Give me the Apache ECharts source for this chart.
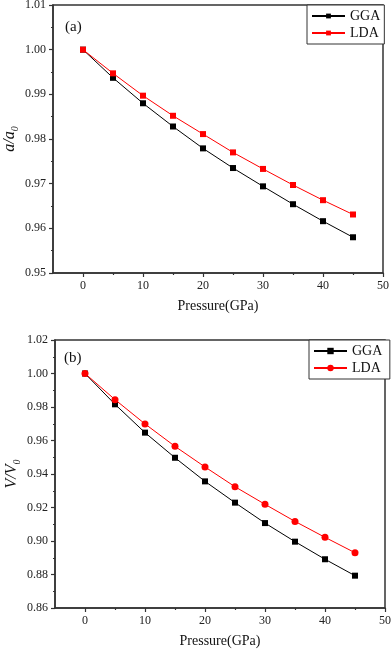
<!DOCTYPE html>
<html>
<head>
<meta charset="utf-8">
<script src="https://cdn.jsdelivr.net/npm/echarts@6/dist/echarts.min.js"></script>
<style>
  html, body { margin: 0; padding: 0; background: #fff; }
  #main { width: 392px; height: 652px; }
</style>
</head>
<body>
<div id="main"></div>
<script>
var pressure = [0, 5, 10, 15, 20, 25, 30, 35, 40, 45];
// (a) lattice constant ratio a/a0
var aGGA = [1.0000, 0.9937, 0.9880, 0.9828, 0.9779, 0.9735, 0.9694, 0.9654, 0.9616, 0.9580];
var aLDA = [1.0000, 0.9947, 0.9897, 0.9852, 0.9811, 0.9770, 0.9733, 0.9697, 0.9663, 0.9631];
// (b) volume ratio V/V0
var vGGA = [1.0000, 0.9816, 0.9647, 0.9497, 0.9356, 0.9229, 0.9107, 0.8996, 0.8891, 0.8793];
var vLDA = [1.0000, 0.9844, 0.9699, 0.9565, 0.9442, 0.9324, 0.9219, 0.9117, 0.9022, 0.8930];
var xMajor = [0, 10, 20, 30, 40, 50];
var xMinor = [5, 15, 25, 35, 45];

function pairs(xs, ys) {
  return xs.map(function (x, i) { return [x, ys[i]]; });
}

var serif = 'Liberation Serif';
var axisColor = '#333';

// main x axis plus a label-less one for the short ticks in between
function xAxes(g) {
  return [{
    gridIndex: g, type: 'value', min: -5, max: 50, interval: 5, position: 'bottom',
    name: 'Pressure(GPa)', nameLocation: 'middle', nameGap: 26,
    nameTextStyle: { fontFamily: serif, fontSize: 14, color: '#111' },
    axisLine: { onZero: false, lineStyle: { color: axisColor, width: 1.5 } },
    axisTick: { customValues: xMajor, length: 4, lineStyle: { color: axisColor, width: 1.2 } },
    axisLabel: { customValues: xMajor, margin: 7, fontFamily: serif, fontSize: 12, color: '#222' },
    splitLine: { show: false }
  }, {
    gridIndex: g, type: 'value', min: -5, max: 50, interval: 5, position: 'bottom',
    axisLine: { show: false, onZero: false },
    axisTick: { customValues: xMinor, length: 2, lineStyle: { color: axisColor, width: 1.2 } },
    axisLabel: { show: false },
    splitLine: { show: false }
  }];
}

function yAxis(g, min, max, step, nm) {
  return {
    gridIndex: g, type: 'value', min: min, max: max, interval: step,
    name: nm, nameLocation: 'middle', nameGap: 33, nameMoveOverlap: false,
    nameTextStyle: {
      rich: {
        i: { fontFamily: serif, fontStyle: 'italic', fontSize: 16, color: '#111', lineHeight: 20, verticalAlign: 'middle' },
        s: { fontFamily: serif, fontStyle: 'italic', fontSize: 10, color: '#111', lineHeight: 20, verticalAlign: 'bottom' }
      }
    },
    axisLine: { show: true, onZero: false, lineStyle: { color: axisColor, width: 1.5 } },
    axisTick: { length: 4, lineStyle: { color: axisColor, width: 1.2 } },
    minorTick: { show: true, splitNumber: 2, length: 2, lineStyle: { color: axisColor, width: 1.2 } },
    axisLabel: {
      margin: 7, fontFamily: serif, fontSize: 12, color: '#222',
      formatter: function (v) { return v.toFixed(2); }
    },
    splitLine: { show: false }
  };
}

function lineSeries(name, xi, yi, data, color, symbol, size) {
  return {
    name: name, type: 'line', xAxisIndex: xi, yAxisIndex: yi, data: data,
    symbol: symbol, symbolSize: size,
    lineStyle: { color: color, width: 1 },
    itemStyle: { color: color }
  };
}

function legendBox(names, left, top, iconH) {
  return {
    data: names, orient: 'vertical', left: left, top: top,
    padding: [4, 4, 4, 4], itemGap: 3, itemWidth: 33, itemHeight: iconH,
    borderColor: axisColor, borderWidth: 1, backgroundColor: '#fff',
    textStyle: { fontFamily: serif, fontSize: 14, color: '#111' },
    selectedMode: false
  };
}

var chart = echarts.init(document.getElementById('main'));
chart.setOption({
  backgroundColor: '#fff',
  animation: false,
  grid: [
    { left: 53, top: 5, width: 330, height: 268, show: true, borderColor: axisColor, borderWidth: 1.5, outerBoundsMode: 'none' },
    { left: 55, top: 340, width: 330, height: 268, show: true, borderColor: axisColor, borderWidth: 1.5, outerBoundsMode: 'none' }
  ],
  xAxis: xAxes(0).concat(xAxes(1)),
  yAxis: [
    yAxis(0, 0.95, 1.01, 0.01, '{i|a}{i|/}{i|a}{s|0}'),
    yAxis(1, 0.86, 1.02, 0.02, '{i|V}{i|/}{i|V}{s|0}')
  ],
  legend: [
    legendBox(['GGA', 'LDA'], 307, 5, 6),
    legendBox(['GGA ', 'LDA '], 309, 340, 8)
  ],
  graphic: [
    { type: 'text', left: 65, top: 20, style: { text: '(a)', font: '15px "Liberation Serif"', fill: '#111' } },
    { type: 'text', left: 64, top: 351, style: { text: '(b)', font: '15px "Liberation Serif"', fill: '#111' } }
  ],
  series: [
    lineSeries('GGA', 0, 0, pairs(pressure, aGGA), '#000', 'rect', 6),
    lineSeries('LDA', 0, 0, pairs(pressure, aLDA), '#ff0000', 'rect', 6),
    lineSeries('GGA ', 2, 1, pairs(pressure, vGGA), '#000', 'rect', 6),
    lineSeries('LDA ', 2, 1, pairs(pressure, vLDA), '#ff0000', 'circle', 7)
  ]
});
</script>
</body>
</html>
